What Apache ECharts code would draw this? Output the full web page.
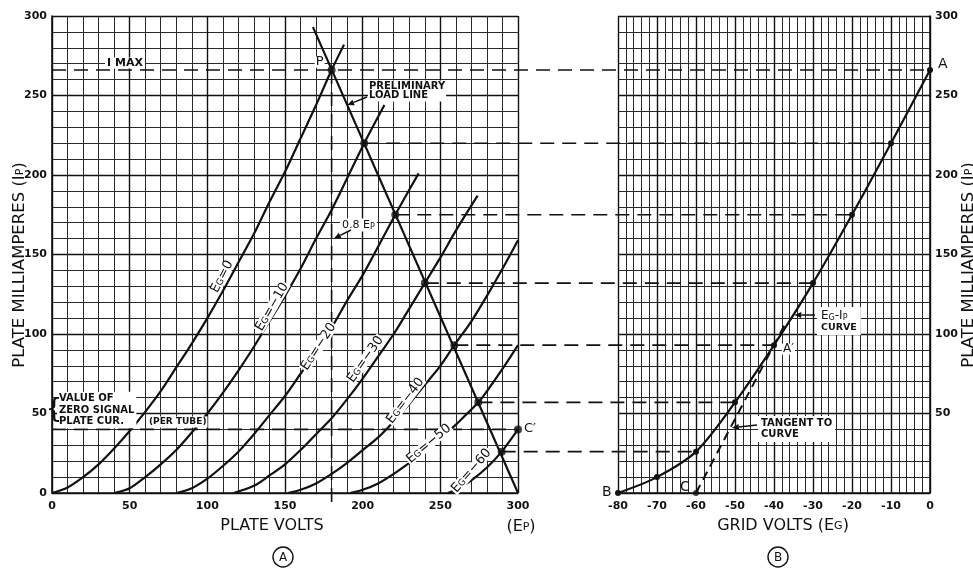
<!DOCTYPE html>
<html>
<head>
<meta charset="utf-8">
<script src="https://cdn.jsdelivr.net/npm/echarts@6/dist/echarts.min.js"></script>
<style>
  html, body { margin: 0; padding: 0; background: #fff; }
  #chart { width: 973px; height: 568px; }
</style>
</head>
<body>
<div id="chart"></div>
<script>
// plate characteristics (A): plate volts / plate mA for each grid voltage
var vEg0  = [0, 10, 20, 30, 40, 50, 60, 70, 80, 90, 100, 110, 120, 130, 140, 150, 160, 170, 180, 188];
var iEg0  = [0, 3.5, 10, 18, 28, 39, 51, 64, 79, 94, 110, 127, 145, 163, 183, 202, 223, 244, 266, 282];
var vEg10 = [40, 50, 60, 70, 80, 90, 100, 110, 120, 130, 140, 150, 160, 170, 180, 190, 201, 214];
var iEg10 = [0, 3, 10, 18, 27, 38, 50, 63, 77, 92, 108, 124, 141, 160, 178, 198, 220, 244];
var vEg20 = [80, 90, 100, 110, 120, 130, 140, 150, 160, 170, 180, 190, 200, 210, 221, 236];
var iEg20 = [0, 3, 9, 17, 26, 37, 49, 61, 75, 89, 104, 121, 137, 155, 175, 201];
var vEg30 = [117, 130, 140, 150, 160, 170, 180, 190, 200, 210, 220, 230, 240, 250, 260, 274];
var iEg30 = [0, 4.5, 11, 18, 27, 37, 47, 59, 72, 86, 100, 116, 132, 148, 165, 187];
var vEg40 = [152, 160, 170, 180, 190, 200, 210, 220, 230, 240, 250, 259, 270, 280, 290, 300];
var iEg40 = [0, 2, 6, 12, 19, 27, 35, 45, 56, 68, 80, 93, 108, 124, 141, 159];
var vEg50 = [192, 200, 210, 220, 230, 240, 250, 260, 274.5, 280, 290, 300];
var iEg50 = [0, 2, 6, 12, 19, 26, 34, 43, 57, 64, 78, 93];
var vEg60 = [255, 260, 270, 280, 289.5, 300];
var iEg60 = [0, 2, 8, 16, 26, 40];

var gridVolts = [0, -10, -20, -30, -40, -50, -60];
var curveNames = ['0', '−10', '−20', '−30', '−40', '−50', '−60'];

// load line and its crossings with each curve
var loadV = [168, 300];
var loadI = [293, 0];
var opPlateV = [180, 201, 221, 240, 259, 274.5, 289.5];
var opPlateI = [266, 220, 175, 132, 93, 57, 26];

var iMax = 266;
var zeroSignalI = 40;
var pointV = 180;        // 0.8 Ep
var cPrime = [300, 40];

// Eg-Ip curve (B)
var egGridV  = [-80, -70, -60, -50, -40, -30, -20, -10, 0];
var egPlateI = [0, 10, 26, 57, 93, 132, 175, 220, 266];
var tanV = [-60, -37];
var tanI = [0, 107];

var INK = '#111';
var FONT = 'DejaVu Sans';

var chart = echarts.init(document.getElementById('chart'));

function pairs(xs, ys) {
  return xs.map(function (x, i) { return [x, ys[i]]; });
}

var curves = [[vEg0, iEg0], [vEg10, iEg10], [vEg20, iEg20], [vEg30, iEg30],
              [vEg40, iEg40], [vEg50, iEg50], [vEg60, iEg60]];

var tickLabel = { color: INK, fontFamily: FONT, fontWeight: 'bold', fontSize: 11 };

function xAxisOf(g, min, max, step, minor) {
  return {
    gridIndex: g, type: 'value', min: min, max: max, interval: step,
    axisLine: { show: true, onZero: false, lineStyle: { color: INK, width: 1.6 } },
    axisTick: { show: false },
    axisLabel: Object.assign({ margin: 8 }, tickLabel),
    splitLine: { show: true, lineStyle: { color: INK, width: 1.4 } },
    minorTick: { show: false, splitNumber: minor },
    minorSplitLine: { show: true, lineStyle: { color: '#2a2a2a', width: 1 } }
  };
}
function yAxisOf(g, pos) {
  return {
    gridIndex: g, type: 'value', min: 0, max: 300, interval: 50, position: pos,
    axisLine: { show: true, lineStyle: { color: INK, width: 1.6 } },
    axisTick: { show: false },
    axisLabel: Object.assign({
      margin: 5,
      formatter: function (v) { return (pos === 'right' && v === 0) ? '' : v; }
    }, tickLabel),
    splitLine: { show: true, lineStyle: { color: INK, width: 1.4 } },
    minorTick: { show: false, splitNumber: 5 },
    minorSplitLine: { show: true, lineStyle: { color: '#2a2a2a', width: 1 } }
  };
}

var series = curves.map(function (c) {
  return {
    type: 'line', xAxisIndex: 0, yAxisIndex: 0, data: pairs(c[0], c[1]),
    smooth: 0.3, showSymbol: false, silent: true,
    lineStyle: { color: INK, width: 2.2 }, z: 5
  };
});
series.push({
  type: 'line', xAxisIndex: 0, yAxisIndex: 0, data: pairs(loadV, loadI),
  showSymbol: false, silent: true, lineStyle: { color: INK, width: 2.2 }, z: 5
});
series.push({
  type: 'scatter', xAxisIndex: 0, yAxisIndex: 0,
  data: pairs(opPlateV, opPlateI).concat([cPrime]),
  symbol: 'circle', symbolSize: 8, itemStyle: { color: INK }, silent: true, z: 8
});
series.push({
  type: 'line', xAxisIndex: 1, yAxisIndex: 1, data: pairs(egGridV, egPlateI),
  smooth: 0.3, symbol: 'circle', symbolSize: 6, showSymbol: true,
  itemStyle: { color: INK }, lineStyle: { color: INK, width: 2.2 }, silent: true, z: 5
});
series.push({
  type: 'line', xAxisIndex: 1, yAxisIndex: 1, data: pairs(tanV, tanI),
  showSymbol: false, silent: true, lineStyle: { color: INK, width: 2, type: [9, 6] }, z: 5
});
series.push({
  type: 'scatter', xAxisIndex: 1, yAxisIndex: 1, data: [[tanV[0], tanI[0]]],
  symbol: 'circle', symbolSize: 6, itemStyle: { color: INK }, silent: true, z: 8
});

chart.setOption({
  animation: false,
  grid: [
    { left: 52, top: 16, width: 466, height: 477 },
    { left: 618, top: 16, width: 312, height: 477 }
  ],
  xAxis: [xAxisOf(0, 0, 300, 50, 5), xAxisOf(1, -80, 0, 10, 5)],
  yAxis: [yAxisOf(0, 'left'), yAxisOf(1, 'right')],
  series: series
});

// ---- annotations ----
function px(g, p) { return chart.convertToPixel({ gridIndex: g }, p); }
var gfx = [];

function dashed(a, b) {
  gfx.push({ type: 'line', silent: true, z: 20,
    shape: { x1: a[0], y1: a[1], x2: b[0], y2: b[1] },
    style: { stroke: INK, lineWidth: 1.6, lineDash: [14, 8] } });
}
function label(x, y, text, opt) {
  opt = opt || {};
  var st = {
    text: text, fill: INK, fontFamily: FONT,
    fontSize: opt.size || 10, fontWeight: opt.weight || 'bold',
    align: opt.align || 'left', textAlign: opt.align || 'left',
    verticalAlign: 'middle', textVerticalAlign: 'middle',
    lineHeight: opt.lh || 11
  };
  if (opt.bg) { st.backgroundColor = '#fff'; st.padding = opt.pad || [1, 2]; }
  if (opt.rich) st.rich = opt.rich;
  gfx.push({ type: 'text', x: x, y: y, rotation: opt.rot || 0, z: 40, silent: true, style: st });
}
function arrow(a, b) {
  var dx = b[0] - a[0], dy = b[1] - a[1], L = Math.sqrt(dx * dx + dy * dy);
  var ux = dx / L, uy = dy / L, h = 7, w = 3;
  var bx = b[0] - ux * h, by = b[1] - uy * h;
  gfx.push({ type: 'line', silent: true, z: 40,
    shape: { x1: a[0], y1: a[1], x2: bx, y2: by }, style: { stroke: INK, lineWidth: 1.5 } });
  gfx.push({ type: 'polygon', silent: true, z: 40,
    shape: { points: [[b[0], b[1]], [bx - uy * w, by + ux * w], [bx + uy * w, by - ux * w]] },
    style: { fill: INK } });
}

// projection lines from the load line to the Eg-Ip curve
dashed(px(0, [0, iMax]), px(1, [0, iMax]));
for (var i = 1; i < opPlateV.length; i++) {
  dashed(px(0, [opPlateV[i], opPlateI[i]]), px(1, [gridVolts[i], opPlateI[i]]));
}
dashed(px(0, [0, zeroSignalI]), px(0, cPrime));
dashed(px(0, [pointV, iMax]), px(0, [pointV, -7]));

var sub = {
  e: { fontSize: 13, fontFamily: FONT, fill: INK },
  s: { fontSize: 9, fontFamily: FONT, fill: INK, verticalAlign: 'bottom' }
};

// curve labels
var curveLabelPos = [[109.5, 136, 63], [141.7, 117, 60], [171.7, 92, 57], [201.8, 84, 55],
                     [227.5, 58, 53], [242.6, 31, 40], [270, 14, 49]];
curveLabelPos.forEach(function (p, k) {
  var q = px(0, [p[0], p[1]]);
  label(q[0], q[1], '{e|E}{s|G}{e|=' + curveNames[k] + '}', {
    align: 'center', rot: p[2] * Math.PI / 180, bg: true, pad: [0, 1], rich: sub, weight: 'normal'
  });
});

var yImax = px(0, [0, iMax])[1];
label(125, yImax - 7, 'I MAX', { align: 'center', size: 11, bg: true, pad: [0, 2] });
var pP = px(0, [opPlateV[0], opPlateI[0]]);
label(pP[0] - 12, pP[1] - 8, 'P', { align: 'center', size: 13, weight: 'normal', bg: true, pad: [0, 1] });
label(368, 91, 'PRELIMINARY\nLOAD LINE', { size: 10, lh: 9.5, bg: true, pad: [1, 1] });
arrow([367, 97], px(0, [190, 244]));
label(340, 225, '{m|0.8 E}{t|P}', { bg: true, pad: [1, 2], rich: {
  m: { fontSize: 11, fontFamily: FONT, fill: INK },
  t: { fontSize: 8, fontFamily: FONT, fill: INK, verticalAlign: 'bottom' } } });
arrow([351, 230], px(0, [pointV + 1.5, 160]));
label(57, 410, 'VALUE OF\nZERO SIGNAL\nPLATE CUR.', { size: 10, lh: 11.5, bg: true, pad: [1, 2] });
label(54, 410, '{', { size: 26, weight: 'normal', align: 'center' });
label(148, 422, '(PER TUBE)', { size: 9, bg: true, pad: [0, 1] });
var pC1 = px(0, cPrime);
label(pC1[0] + 6, pC1[1] - 1, 'C′', { size: 13, weight: 'normal' });

var pA = px(1, [0, iMax]);
label(pA[0] + 8, pA[1] - 6, 'A', { size: 14, weight: 'normal' });
var pA2 = px(1, [gridVolts[4], opPlateI[4]]);
label(pA2[0] + 8, pA2[1] + 4, 'A′', { size: 12, weight: 'normal', bg: true, pad: [0, 1] });
var pB = px(1, [egGridV[0], egPlateI[0]]);
label(pB[0] - 16, pB[1] - 1, 'B', { size: 14, weight: 'normal' });
var pC = px(1, [tanV[0], tanI[0]]);
label(pC[0] - 16, pC[1] - 6, 'C', { size: 14, weight: 'normal' });
label(817, 321, '{e|E}{s|G}{e|-I}{s|P}\n{c|CURVE}', { bg: true, pad: [2, 4], lh: 13, rich: {
  e: { fontSize: 12, fontFamily: FONT, fill: INK, lineHeight: 13 },
  s: { fontSize: 8, fontFamily: FONT, fill: INK, verticalAlign: 'bottom', lineHeight: 13 },
  c: { fontSize: 9.5, fontFamily: FONT, fontWeight: 'bold', fill: INK, lineHeight: 11 } } });
arrow([815, 315], px(1, [-34.8, 112]));
label(758, 429, 'TANGENT TO\nCURVE', { size: 10, lh: 11, bg: true, pad: [2, 3] });
arrow([757, 425], px(1, [-50.8, 41]));

// axis names and panel tags
var nameStyle = { e: { fontSize: 16, fontFamily: FONT, fill: INK }, s: { fontSize: 11, fontFamily: FONT, fill: INK, verticalAlign: 'bottom' } };
var sideName = { e: { fontSize: 16.5, fontFamily: FONT, fill: INK }, s: { fontSize: 11, fontFamily: FONT, fill: INK, verticalAlign: 'bottom' } };
label(20, 265, '{e|PLATE MILLIAMPERES (I}{s|P}{e|)}', { align: 'center', rot: Math.PI / 2, rich: sideName, weight: 'normal' });
label(969, 265, '{e|PLATE MILLIAMPERES (I}{s|P}{e|)}', { align: 'center', rot: Math.PI / 2, rich: sideName, weight: 'normal' });
label(272, 526, '{e|PLATE VOLTS}', { align: 'center', rich: nameStyle, weight: 'normal' });
label(521, 527, '{e|(E}{s|P}{e|)}', { align: 'center', rich: nameStyle, weight: 'normal' });
label(783, 526, '{e|GRID VOLTS (E}{s|G}{e|)}', { align: 'center', rich: nameStyle, weight: 'normal' });

[[283, 'A'], [778, 'B']].forEach(function (t) {
  gfx.push({ type: 'circle', silent: true, shape: { cx: t[0], cy: 557, r: 10 },
    style: { fill: 'none', stroke: INK, lineWidth: 1.4 } });
  label(t[0], 557.5, t[1], { align: 'center', size: 12, weight: 'normal' });
});

chart.setOption({ graphic: gfx });
</script>
</body>
</html>
